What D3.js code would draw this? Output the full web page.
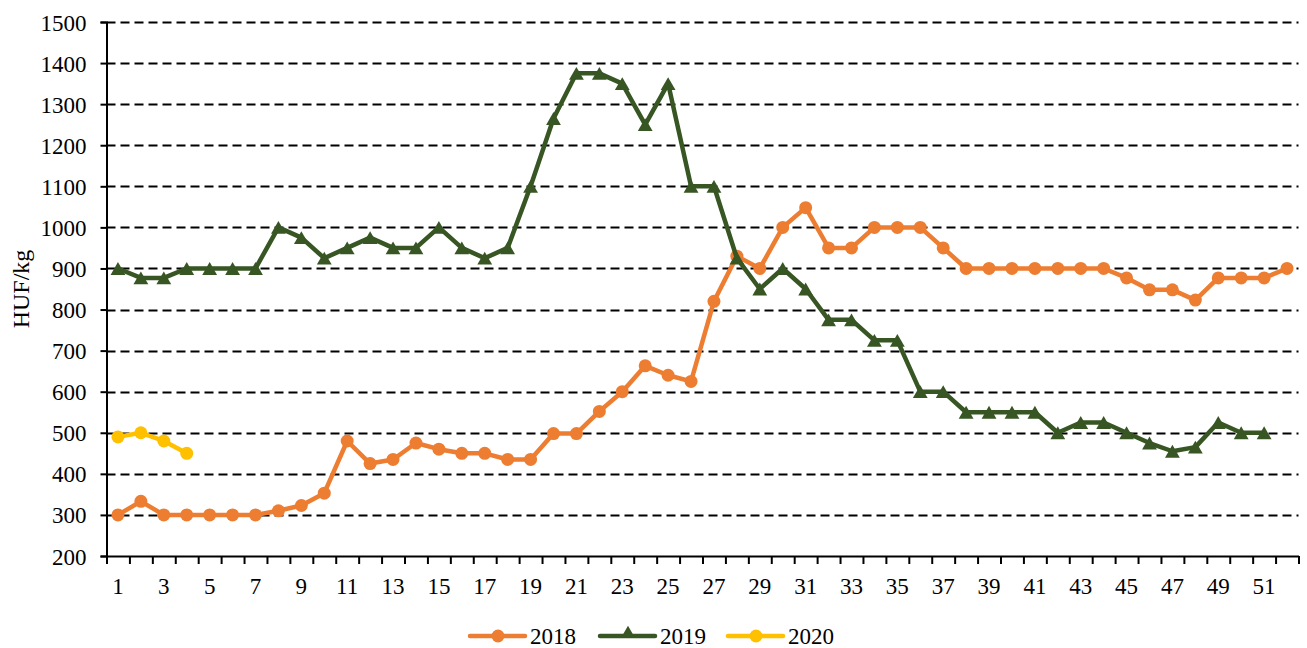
<!DOCTYPE html>
<html>
  <head>
    <meta charset="utf-8">
    <title>HUF/kg weekly prices</title>
    <script src="https://cdn.jsdelivr.net/npm/d3@7"></script>
    <style>
      body { margin: 0; background: #fff; }
      svg { display: block; }
      text { font-family: 'Liberation Serif', 'Times New Roman', serif; fill: #000; }
    </style>
  </head>
  <body>
    <svg></svg>
    <script>
      // weeks 1..52
      let weeks = d3.range(1, 53);

      let values2018 = [300, 333, 300, 300, 300, 300, 300, 310, 323, 353,
                        480, 425, 435, 475, 460, 450, 450, 435, 435, 498,
                        498, 552, 600, 663, 640, 625, 820, 930, 900, 1000,
                        1048, 950, 950, 1000, 1000, 1000, 950, 900, 900, 900,
                        900, 900, 900, 900, 877, 848, 848, 823, 877, 877,
                        877, 900];

      let values2019 = [900, 877, 877, 900, 900, 900, 900, 1000, 975, 925,
                        950, 975, 950, 950, 1000, 950, 925, 950, 1100, 1265,
                        1375, 1375, 1350, 1250, 1350, 1100, 1100, 925, 850, 900,
                        850, 775, 775, 725, 725, 600, 600, 550, 550, 550,
                        550, 500, 525, 525, 500, 475, 455, 465, 525, 500,
                        500];

      let values2020 = [490, 500, 480, 450];

      let yTicks = d3.range(200, 1501, 100);
      let xLabels = d3.range(1, 52, 2);

      let seriesNames = ["2018", "2019", "2020"];
      let seriesColors = ["#ED7D31", "#375623", "#FFC000"];
      let seriesMarkers = ["circle", "triangle", "circle"];

      let w = 1307, h = 648;
      let margin = {top: 22, left: 106.5, right: 8.5, bottom: 92};
      let fontSize = 23;

      let svg = d3.select("svg").attr("width", w).attr("height", h);

      let x = d3.scaleLinear()
                .domain([0.5, 52.5])
                .range([margin.left, w - margin.right]);

      let y = d3.scaleLinear()
                .domain([200, 1500])
                .range([h - margin.bottom, margin.top]);

      //dashed gridlines
      svg.append("g")
         .selectAll("line")
         .data(yTicks.filter(d => d > 200))
         .enter()
         .append("line")
         .attr("x1", x(0.5))
         .attr("x2", x(52.5))
         .attr("y1", d => Math.round(y(d)) + 0.5)
         .attr("y2", d => Math.round(y(d)) + 0.5)
         .attr("stroke", "#000")
         .attr("stroke-width", 2)
         .attr("stroke-dasharray", "9,5");

      //y axis
      let yAxis = svg.append("g")
         .attr("transform", `translate(${margin.left},0)`)
         .call(d3.axisLeft(y).tickValues(yTicks).tickSize(6).tickPadding(14).tickFormat(d3.format("d")));
      yAxis.select(".domain").attr("stroke-width", 2);
      yAxis.selectAll(".tick line").attr("stroke-width", 2);
      yAxis.selectAll("text").attr("font-size", fontSize).attr("dy", "0.35em");

      //x axis, ticks between weeks
      let xAxis = svg.append("g")
         .attr("transform", `translate(0,${y(200)})`)
         .call(d3.axisBottom(x).tickValues(d3.range(0.5, 53, 1)).tickSize(8).tickSizeOuter(0).tickFormat(""));
      xAxis.select(".domain").attr("stroke-width", 2);
      xAxis.selectAll(".tick line").attr("stroke-width", 2);

      svg.append("g")
         .selectAll("text")
         .data(xLabels)
         .enter()
         .append("text")
         .attr("x", d => x(d))
         .attr("y", y(200) + 38)
         .attr("text-anchor", "middle")
         .attr("font-size", fontSize)
         .text(d => d);

      //axis title
      svg.append("text")
         .attr("transform", `translate(29,${y(850)}) rotate(-90)`)
         .attr("text-anchor", "middle")
         .attr("font-size", 24)
         .text("HUF/kg");

      let triSize = 95;
      let tri = d3.symbol().type(d3.symbolTriangle).size(triSize);
      // d3 triangles sit on their centroid; shift so the box is centred
      let triShift = Math.sqrt(triSize * 4 / Math.sqrt(3)) * Math.sqrt(3) / 2 / 6;

      let drawMarkers = (g, pts, type, color, small) => {
        if (type == "circle") {
          g.selectAll("circle")
           .data(pts)
           .enter()
           .append("circle")
           .attr("cx", d => d[0])
           .attr("cy", d => d[1])
           .attr("r", 6.5)
           .attr("fill", color);
        } else {
          g.selectAll("path.mk")
           .data(pts)
           .enter()
           .append("path")
           .attr("class", "mk")
           .attr("d", small ? d3.symbol().type(d3.symbolTriangle).size(70) : tri)
           .attr("transform", d => `translate(${d[0]},${d[1] + (small ? -3 : triShift)})`)
           .attr("fill", color);
        }
      };

      let line = d3.line();

      [values2018, values2019, values2020].forEach((vals, i) => {
        let pts = vals.map((v, j) => [x(weeks[j]), y(v)]);
        let g = svg.append("g");
        g.append("path")
         .attr("d", line(pts))
         .attr("fill", "none")
         .attr("stroke", seriesColors[i])
         .attr("stroke-width", 4.5)
         .attr("stroke-linejoin", "round");
        drawMarkers(g, pts, seriesMarkers[i], seriesColors[i], false);
      });

      //legend
      let legendX = [470, 600, 728];
      let legendY = 636;
      seriesNames.forEach((name, i) => {
        let g = svg.append("g");
        g.append("line")
         .attr("x1", legendX[i])
         .attr("x2", legendX[i] + 55)
         .attr("y1", legendY)
         .attr("y2", legendY)
         .attr("stroke", seriesColors[i])
         .attr("stroke-width", 4.5)
         .attr("stroke-linecap", "round");
        drawMarkers(g, [[legendX[i] + 28, legendY]], seriesMarkers[i], seriesColors[i], true);
        g.append("text")
         .attr("x", legendX[i] + 60)
         .attr("y", legendY)
         .attr("dy", "0.35em")
         .attr("font-size", fontSize)
         .text(name);
      });
    </script>
  </body>
</html>
